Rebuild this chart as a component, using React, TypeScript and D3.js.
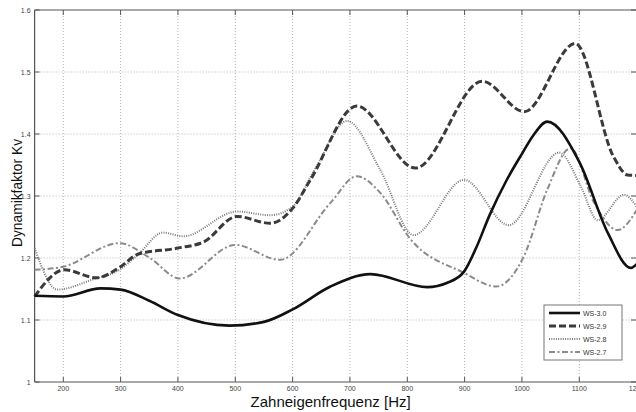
import React from "react";
import * as d3 from "d3";

const xTicks = [200, 300, 400, 500, 600, 700, 800, 900, 1000, 1100, 1200];
const yTicks = [1, 1.1, 1.2, 1.3, 1.4, 1.5, 1.6];

const ws30F = [150, 200, 265, 300, 350, 400, 490, 550, 600, 666, 736, 835, 870, 899, 920, 944, 973, 1000, 1020, 1044, 1100, 1150, 1190, 1200];
const ws30V = [1.139, 1.138, 1.151, 1.149, 1.131, 1.108, 1.091, 1.097, 1.117, 1.154, 1.174, 1.153, 1.16, 1.178, 1.216, 1.27, 1.325, 1.368, 1.398, 1.42, 1.355, 1.24, 1.184, 1.19];

const ws29F = [150, 202, 258, 300, 330, 400, 445, 503, 561, 600, 631, 712, 814, 931, 1004, 1093, 1160, 1184, 1200];
const ws29V = [1.138, 1.181, 1.168, 1.186, 1.206, 1.216, 1.226, 1.267, 1.256, 1.28, 1.326, 1.445, 1.345, 1.485, 1.436, 1.546, 1.363, 1.334, 1.333];

const ws28F = [150, 190, 250, 300, 330, 374, 409, 503, 561, 600, 640, 695, 753, 811, 899, 977, 1065, 1103, 1132, 1178, 1200];
const ws28V = [1.216, 1.149, 1.165, 1.182, 1.205, 1.241, 1.235, 1.275, 1.269, 1.283, 1.345, 1.421, 1.342, 1.237, 1.326, 1.253, 1.37, 1.315, 1.261, 1.302, 1.283];

const ws27F = [150, 200, 298, 351, 403, 500, 578, 666, 712, 753, 805, 899, 955, 1003, 1044, 1085, 1126, 1167, 1200];
const ws27V = [1.181, 1.186, 1.224, 1.2, 1.167, 1.221, 1.197, 1.289, 1.332, 1.305, 1.231, 1.176, 1.154, 1.202, 1.31, 1.377, 1.289, 1.245, 1.277];

const seriesNames = ["WS-3.0", "WS-2.9", "WS-2.8", "WS-2.7"];

const W = 636;
const H = 412;
const X0 = 34.6;
const X1 = 636.6;
const Y0 = 382;
const Y1 = 10;

export default function App() {
  const x = d3.scaleLinear().domain([150, 1200]).range([X0, X1]);
  const y = d3.scaleLinear().domain([1, 1.6]).range([Y0, Y1]);
  const line = d3
    .line<[number, number]>()
    .x((d) => x(d[0]))
    .y((d) => y(d[1]))
    .curve(d3.curveMonotoneX);

  const styles = [
    { stroke: "#111", width: 2.6, dash: "none" },
    { stroke: "#3a3a3a", width: 3, dash: "7,3" },
    { stroke: "#7a7a7a", width: 2, dash: "1,1.3" },
    { stroke: "#8a8a8a", width: 2, dash: "6,2.5,2,2.5" },
  ];
  const data: [number, number][][] = [
    ws30F.map((f, i) => [f, ws30V[i]]),
    ws29F.map((f, i) => [f, ws29V[i]]),
    ws28F.map((f, i) => [f, ws28V[i]]),
    ws27F.map((f, i) => [f, ws27V[i]]),
  ];
  const drawOrder = [3, 2, 1, 0];

  const font = "'Liberation Sans', Arial, sans-serif";
  const legX = 544;
  const legY = 305;

  return (
    <svg
      width={W}
      height={H}
      style={{ position: "absolute", left: 0, top: 0, background: "#fff" }}
    >
      <rect x={0} y={0} width={W} height={H} fill="#fff" />
      {/* grid */}
      {xTicks
        .filter((t) => t < 1200)
        .map((t) => (
          <line
            key={"gx" + t}
            x1={x(t)}
            x2={x(t)}
            y1={Y1}
            y2={Y0}
            stroke="#b5b5b5"
            strokeWidth={1}
            strokeDasharray="1,2"
          />
        ))}
      {yTicks
        .filter((t) => t > 1 && t < 1.6)
        .map((t) => (
          <line
            key={"gy" + t}
            x1={X0}
            x2={X1}
            y1={y(t)}
            y2={y(t)}
            stroke="#b5b5b5"
            strokeWidth={1}
            strokeDasharray="1,2"
          />
        ))}
      {/* frame */}
      <line x1={X0} x2={X1} y1={Y0} y2={Y0} stroke="#555" strokeWidth={1.2} />
      <line x1={X0} x2={X1} y1={Y1} y2={Y1} stroke="#555" strokeWidth={1.2} />
      <line x1={X0} x2={X0} y1={Y1} y2={Y0} stroke="#555" strokeWidth={1.2} />
      {/* ticks */}
      {xTicks.map((t) => (
        <g key={"tx" + t}>
          <line x1={x(t)} x2={x(t)} y1={Y0} y2={Y0 - 5} stroke="#555" />
          <line x1={x(t)} x2={x(t)} y1={Y1} y2={Y1 + 5} stroke="#555" />
          <text
            x={x(t)}
            y={Y0 + 8.5}
            fontSize={7}
            fontFamily={font}
            fill="#444"
            textAnchor="middle"
          >
            {t}
          </text>
        </g>
      ))}
      {yTicks.map((t) => (
        <g key={"ty" + t}>
          <line x1={X0} x2={X0 + 5} y1={y(t)} y2={y(t)} stroke="#555" />
          <line x1={W - 5} x2={W} y1={y(t)} y2={y(t)} stroke="#555" />
          <text
            x={X0 - 4}
            y={y(t) + 2.5}
            fontSize={7}
            fontFamily={font}
            fill="#444"
            textAnchor="end"
          >
            {String(t)}
          </text>
        </g>
      ))}
      {/* series */}
      {drawOrder.map((i) => (
        <path
          key={"s" + i}
          d={line(data[i]) || ""}
          fill="none"
          stroke={styles[i].stroke}
          strokeWidth={styles[i].width}
          strokeDasharray={styles[i].dash}
        />
      ))}
      {/* axis titles */}
      <text
        x={(X0 + X1) / 2 - 5}
        y={407}
        fontSize={15}
        fontFamily={font}
        fill="#111"
        textAnchor="middle"
      >
        Zahneigenfrequenz [Hz]
      </text>
      <text
        transform={`translate(22,193) rotate(-90)`}
        fontSize={13.8}
        fontFamily={font}
        fill="#111"
        textAnchor="middle"
      >
        Dynamikfaktor Kv
      </text>
      {/* legend */}
      <rect
        x={legX}
        y={legY}
        width={78}
        height={55}
        fill="#fff"
        stroke="#777"
        strokeWidth={1}
      />
      {seriesNames.map((n, i) => (
        <g key={"lg" + i}>
          <line
            x1={legX + 5}
            x2={legX + 36}
            y1={legY + 8 + i * 13}
            y2={legY + 8 + i * 13}
            stroke={styles[i].stroke}
            strokeWidth={styles[i].width}
            strokeDasharray={styles[i].dash}
          />
          <text
            x={legX + 39}
            y={legY + 10.5 + i * 13}
            fontSize={7}
            fontFamily={font}
            fill="#333"
          >
            {n}
          </text>
        </g>
      ))}
    </svg>
  );
}
